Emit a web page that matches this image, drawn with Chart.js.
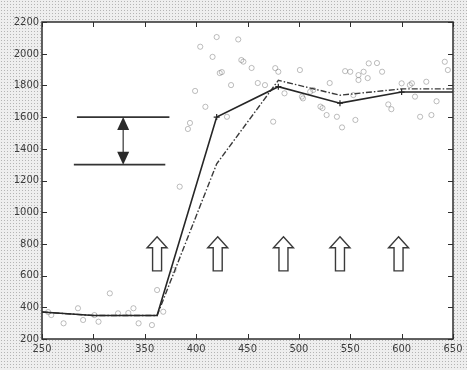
<!DOCTYPE html>
<html>
<head>
<meta charset="utf-8">
<script src="https://cdn.jsdelivr.net/npm/chart.js@4/dist/chart.umd.min.js"></script>
<style>
  html, body { margin: 0; padding: 0; background: #fff; }
  #wrap { width: 467px; height: 370px; position: relative; }
</style>
</head>
<body>
<div id="wrap"><canvas id="c" width="467" height="370"></canvas></div>
<script>
// Axis tick values
const xTicks = [250, 300, 350, 400, 450, 500, 550, 600, 650];
const yTicks = [200, 400, 600, 800, 1000, 1200, 1400, 1600, 1800, 2000, 2200];

// Mean curves
const meanX = [250, 300, 362, 420, 480, 540, 600, 650];
const solidY = [370, 348, 348, 1600, 1792, 1688, 1758, 1758];
const dashedY = [370, 348, 348, 1305, 1832, 1738, 1778, 1778];

// Individual measurements
const obsX = [256, 259, 271, 285, 290, 301, 305, 316, 324, 334,
              339, 344, 357, 362, 368, 378, 384, 392, 394, 399,
              404, 409, 416, 420, 423, 425, 430, 434, 441, 444,
              446, 454, 460, 467, 475, 477, 480, 486, 501, 503,
              504, 511, 514, 521, 523, 527, 530, 537, 542, 545,
              550, 553, 555, 558, 558, 563, 567, 568, 576, 581,
              587, 590, 600, 608, 610, 613, 618, 624, 629, 634,
              642, 645];
const obsY = [370, 351, 299, 394, 320, 351, 309, 488, 362, 364,
              394, 299, 288, 509, 372, 635, 1161, 1525, 1563, 1765,
              2044, 1665, 1980, 2105, 1878, 1884, 1602, 1802, 2090, 1960,
              1950, 1910, 1815, 1802, 1571, 1909, 1886, 1750, 1897, 1729,
              1718, 1760, 1771, 1666, 1657, 1613, 1815, 1602, 1535, 1890,
              1886, 1739, 1582, 1865, 1834, 1886, 1846, 1939, 1941, 1886,
              1680, 1650, 1813, 1802, 1813, 1729, 1602, 1823, 1613, 1700,
              1949, 1897];

// Stimulus markers (up arrows): x position, tip value, base value
const stimX = [362, 421, 485, 540, 597];
const stimTop = 845;
const stimBase = 630;

// Range bracket: two levels and the span of each bar
const bracketLevels = [1600, 1300];
const bracketFrom = [284, 281];
const bracketTo = [374, 370];
const bracketArrowX = 329;

const pts = (xs, ys) => xs.map((x, i) => ({ x: x, y: ys[i] }));

// Halftone fill for the surround
function halftone(ctx) {
  const p = document.createElement('canvas');
  p.width = 3; p.height = 3;
  const g = p.getContext('2d');
  g.fillStyle = '#eeeeee';
  g.fillRect(0, 0, 3, 3);
  g.fillStyle = '#b4b4b4';
  g.fillRect(1, 1, 1, 1);
  return ctx.createPattern(p, 'repeat');
}

const framePlugin = {
  id: 'frame',
  beforeDraw(chart) {
    const { ctx, chartArea: a } = chart;
    ctx.save();
    ctx.fillStyle = halftone(ctx);
    ctx.fillRect(0, 0, chart.width, chart.height);
    ctx.fillStyle = '#ffffff';
    ctx.fillRect(a.left, a.top, a.right - a.left, a.bottom - a.top);
    ctx.restore();
  },
  beforeDatasetsDraw(chart) {
    const { ctx, scales: { x, y } } = chart;
    ctx.save();
    // up arrows
    ctx.strokeStyle = '#3a3a3a';
    ctx.fillStyle = '#ffffff';
    ctx.lineWidth = 1.4;
    const headH = 11, headW = 10, shaftW = 4.5;
    stimX.forEach(v => {
      const cx = x.getPixelForValue(v);
      const top = y.getPixelForValue(stimTop);
      const base = y.getPixelForValue(stimBase);
      ctx.beginPath();
      ctx.moveTo(cx, top);
      ctx.lineTo(cx + headW, top + headH);
      ctx.lineTo(cx + shaftW, top + headH);
      ctx.lineTo(cx + shaftW, base);
      ctx.lineTo(cx - shaftW, base);
      ctx.lineTo(cx - shaftW, top + headH);
      ctx.lineTo(cx - headW, top + headH);
      ctx.closePath();
      ctx.fill();
      ctx.stroke();
    });
    // range bracket
    ctx.strokeStyle = '#333';
    ctx.lineWidth = 1.6;
    bracketLevels.forEach((lv, i) => {
      const py = y.getPixelForValue(lv);
      ctx.beginPath();
      ctx.moveTo(x.getPixelForValue(bracketFrom[i]), py);
      ctx.lineTo(x.getPixelForValue(bracketTo[i]), py);
      ctx.stroke();
    });
    const ax = x.getPixelForValue(bracketArrowX);
    const yTop = y.getPixelForValue(bracketLevels[0]);
    const yBot = y.getPixelForValue(bracketLevels[1]);
    ctx.lineWidth = 1.2;
    ctx.beginPath();
    ctx.moveTo(ax, yTop + 10);
    ctx.lineTo(ax, yBot - 10);
    ctx.stroke();
    ctx.fillStyle = '#2a2a2a';
    const th = 13, tw = 6;
    ctx.beginPath();
    ctx.moveTo(ax, yTop);
    ctx.lineTo(ax + tw, yTop + th);
    ctx.lineTo(ax - tw, yTop + th);
    ctx.closePath();
    ctx.fill();
    ctx.beginPath();
    ctx.moveTo(ax, yBot);
    ctx.lineTo(ax + tw, yBot - th);
    ctx.lineTo(ax - tw, yBot - th);
    ctx.closePath();
    ctx.fill();
    ctx.restore();
  },
  afterDraw(chart) {
    const { ctx, chartArea: a, scales: { x, y } } = chart;
    ctx.save();
    ctx.strokeStyle = '#2e2e2e';
    ctx.lineWidth = 1.5;
    ctx.strokeRect(a.left, a.top, a.right - a.left, a.bottom - a.top);
    ctx.lineWidth = 1;
    const t = 5;
    ctx.beginPath();
    x.ticks.forEach(tk => {
      const px = Math.round(x.getPixelForValue(tk.value)) + 0.5;
      ctx.moveTo(px, a.bottom); ctx.lineTo(px, a.bottom - t);
      ctx.moveTo(px, a.top); ctx.lineTo(px, a.top + t);
    });
    y.ticks.forEach(tk => {
      const py = Math.round(y.getPixelForValue(tk.value)) + 0.5;
      ctx.moveTo(a.left, py); ctx.lineTo(a.left + t, py);
      ctx.moveTo(a.right, py); ctx.lineTo(a.right - t, py);
    });
    ctx.stroke();
    ctx.restore();
  }
};

const tickFont = { family: '"Liberation Sans Narrow", "DejaVu Sans Condensed", "Liberation Sans", Arial, sans-serif', size: 11 };
const plain = v => String(v);

new Chart(document.getElementById('c'), {
  type: 'line',
  data: {
    datasets: [
      {
        type: 'scatter',
        data: pts(obsX, obsY),
        showLine: false,
        pointStyle: 'circle',
        pointRadius: 2.6,
        borderColor: 'rgba(110,110,110,0.5)',
        backgroundColor: 'rgba(0,0,0,0)',
        borderWidth: 0.9,
        order: 3
      },
      {
        data: pts(meanX, dashedY),
        borderColor: '#3a3a3a',
        borderWidth: 1.4,
        borderDash: [6, 2, 1.5, 2],
        pointRadius: 0,
        fill: false,
        tension: 0,
        order: 2
      },
      {
        data: pts(meanX, solidY),
        borderColor: '#262626',
        borderWidth: 1.6,
        pointStyle: 'cross',
        pointRadius: [0, 0, 0, 3, 3, 3, 3, 0],
        pointBorderColor: '#262626',
        pointBorderWidth: 1.2,
        fill: false,
        tension: 0,
        order: 1
      }
    ]
  },
  options: {
    responsive: false,
    animation: false,
    events: [],
    layout: { padding: { top: 22, right: 14, left: 0, bottom: 0 } },
    plugins: { legend: { display: false }, tooltip: { enabled: false } },
    scales: {
      x: {
        type: 'linear',
        min: xTicks[0],
        max: xTicks[xTicks.length - 1],
        afterBuildTicks: s => { s.ticks = xTicks.map(v => ({ value: v })); },
        afterFit: s => { s.height = 31; },
        grid: { display: false, drawTicks: false },
        border: { display: false },
        ticks: { color: '#3c3c3c', font: tickFont, padding: 4, maxRotation: 0, autoSkip: false, callback: plain }
      },
      y: {
        type: 'linear',
        min: yTicks[0],
        max: yTicks[yTicks.length - 1],
        afterBuildTicks: s => { s.ticks = yTicks.map(v => ({ value: v })); },
        afterFit: s => { s.width = 42; },
        grid: { display: false, drawTicks: false },
        border: { display: false },
        ticks: { color: '#3c3c3c', font: tickFont, padding: 3, autoSkip: false, callback: plain }
      }
    }
  },
  plugins: [framePlugin]
});
</script>
</body>
</html>
